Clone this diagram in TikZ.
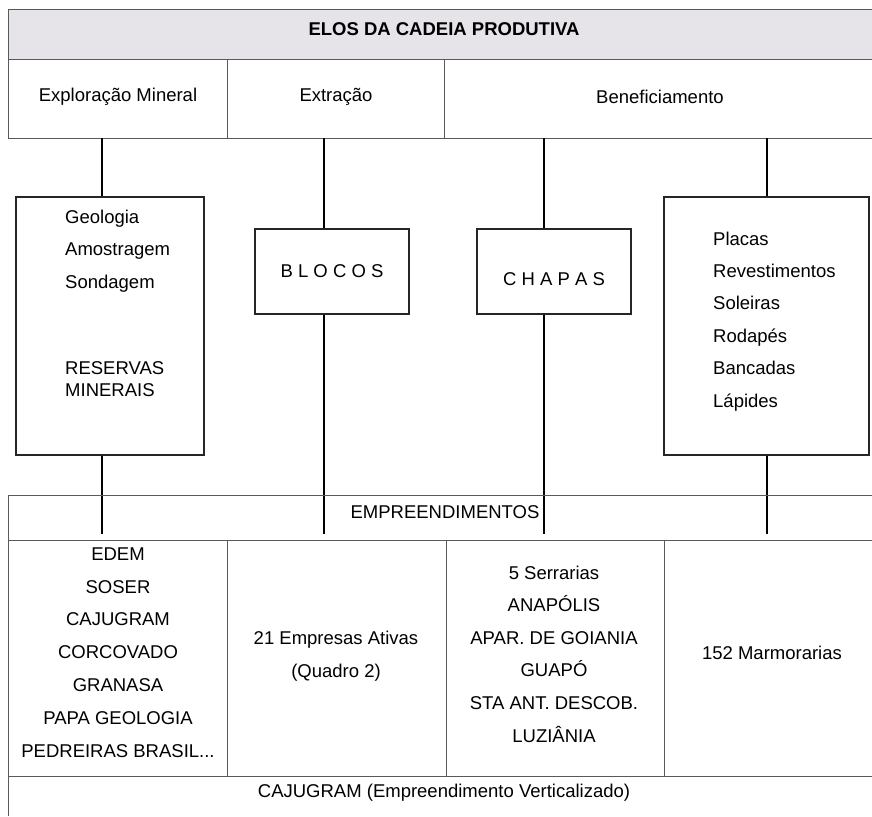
\documentclass[tikz,border=0pt]{standalone}
\usepackage{fontspec}
\setmainfont{Liberation Sans}

\definecolor{hdrgray}{RGB}{230,228,233}

\tikzset{
  tabline/.style={draw=black!65, line width=1pt},
  box/.style={draw=black!85, line width=1.4pt, inner sep=0pt},
  link/.style={draw=black, line width=1.3pt},
  txt/.style={inner sep=0pt, font=\fontsize{18.5}{22}\selectfont}
}

\begin{document}
\begin{tikzpicture}[x=1pt,y=-1pt]
\useasboundingbox (0,0) rectangle (872,816);
% cabecalho da tabela
\fill [hdrgray] (8,10) rectangle (872,60);
\draw [tabline] (872,10) -- (8,10) -- (8,138) -- (872,138);
\draw [tabline] (8,60) -- (872,60);
\draw [tabline] (227,60) -- (227,138);
\draw [tabline] (444,60) -- (444,138);
\node [txt, font=\fontsize{18.5}{22}\bfseries] (elos) at (444,29) {ELOS DA CADEIA PRODUTIVA};
\node [txt] (expl) at (118,97) {Exploração Mineral};
\node [txt] (extr) at (336,97) {Extração};
\node [txt] (benef) at (660,97) {Beneficiamento};
% caixas
\node [box, minimum width=188, minimum height=258] (bexpl) at (110,326) {};
\node [txt, anchor=north west, align=left, font=\fontsize{18.5}{32.5}\selectfont] (etapas) at (65,209.4) {Geologia\\Amostragem\\Sondagem};
\node [txt, anchor=north west, align=left] (reservas) at (65,361.4) {RESERVAS\\MINERAIS};
\node [box, txt, minimum width=154, minimum height=85] (blocos) at (332,271.5) {B L O C O S};
\node [box, minimum width=154, minimum height=85] (chapas) at (554,271.5) {};
\node [txt] (chapastxt) at (554,279) {C H A P A S};
\node [box, minimum width=205, minimum height=258] (bprod) at (766.5,326) {};
\node [txt, anchor=north west, align=left, font=\fontsize{18.5}{32.4}\selectfont] (produtos) at (713,231.4) {Placas\\Revestimentos\\Soleiras\\Rodapés\\Bancadas\\Lápides};
% ligacoes
\coordinate (c1) at (102,138);
\coordinate (c2) at (324,138);
\coordinate (c3) at (544,138);
\coordinate (c4) at (767,138);
\coordinate (e1) at (102,534);
\coordinate (e2) at (324,534);
\coordinate (e3) at (544,534);
\coordinate (e4) at (767,534);
\draw [link] (c1) -- (c1 |- bexpl.north);
\draw [link] (bexpl.south -| e1) -- (e1);
\draw [link] (c2) -- (c2 |- blocos.north);
\draw [link] (blocos.south -| e2) -- (e2);
\draw [link] (c3) -- (c3 |- chapas.north);
\draw [link] (chapas.south -| e3) -- (e3);
\draw [link] (c4) -- (c4 |- bprod.north);
\draw [link] (bprod.south -| e4) -- (e4);
% empreendimentos
\draw [tabline] (872,495) -- (8,495) -- (8,816);
\draw [tabline] (8,540) -- (872,540);
\draw [tabline] (8,776) -- (872,776);
\draw [tabline] (227,540) -- (227,776);
\draw [tabline] (446,540) -- (446,776);
\draw [tabline] (664,540) -- (664,776);
\node [txt] (empr) at (445,512) {EMPREENDIMENTOS};
\node [txt, anchor=north, align=center, font=\fontsize{18.5}{32.8}\selectfont] (empexpl) at (118,547.4) {EDEM\\SOSER\\CAJUGRAM\\CORCOVADO\\GRANASA\\PAPA GEOLOGIA\\PEDREIRAS BRASIL...};
\node [txt, anchor=north, align=center, font=\fontsize{18.5}{33}\selectfont] (empextr) at (336,630.4) {21 Empresas Ativas\\(Quadro 2)};
\node [txt, anchor=north, align=center, font=\fontsize{18.5}{32.6}\selectfont] (serrarias) at (554,565.4) {5 Serrarias\\ANAPÓLIS\\APAR. DE GOIANIA\\GUAPÓ\\STA ANT. DESCOB.\\LUZIÂNIA};
\node [txt] (marmo) at (772,653) {152 Marmorarias};
\node [txt] (cajugram) at (444,793) {CAJUGRAM (Empreendimento Verticalizado)};
\end{tikzpicture}
\end{document}
